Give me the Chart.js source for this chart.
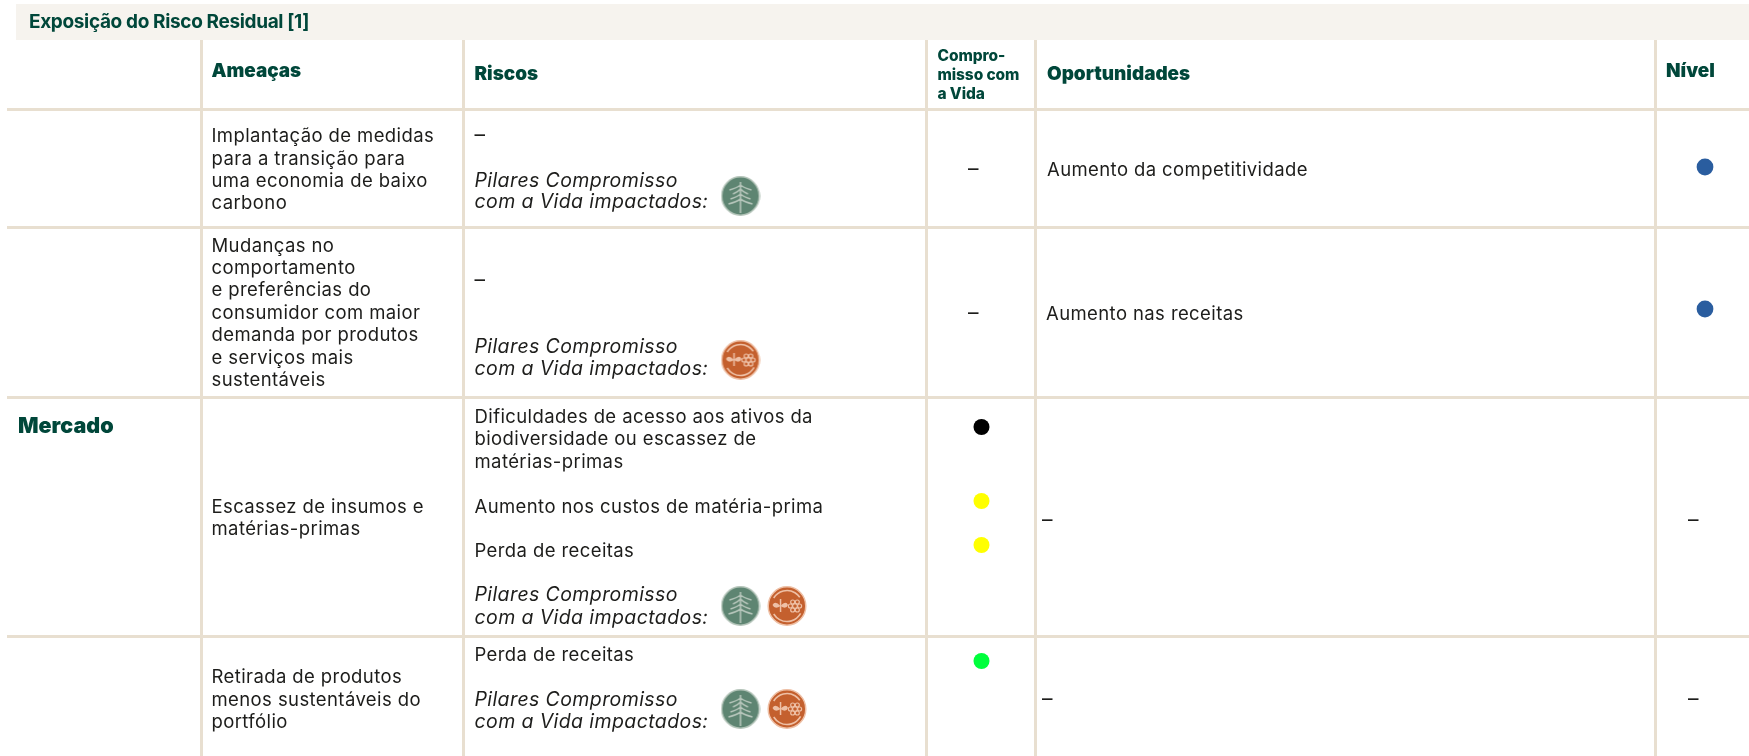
<!DOCTYPE html>
<html lang="pt">
<head>
<meta charset="utf-8">
<title>Exposição do Risco Residual</title>
<style>
  html, body { margin: 0; padding: 0; background: #fff; overflow: hidden; }
  canvas { display: block; }
</style>
<script src="https://cdn.jsdelivr.net/npm/chart.js@4"></script>
</head>
<body>
<canvas id="myChart" width="1749" height="756"></canvas>
<script>
// conteudo da tabela
var titulo = "Exposição do Risco Residual [1]";
var tema = "Mercado";
var colunas = ["Ameaças", "Riscos", "Oportunidades", "Nível"];
var colunaCompromisso = ["Compro-", "misso com", "a Vida"];
var ameacas = [
  ["Implantação de medidas", "para a transição para", "uma economia de baixo", "carbono"],
  ["Mudanças no", "comportamento", "e preferências do", "consumidor com maior", "demanda por produtos", "e serviços mais", "sustentáveis"],
  ["Escassez de insumos e", "matérias-primas"],
  ["Retirada de produtos", "menos sustentáveis do", "portfólio"]
];
var riscos = [
  ["Dificuldades de acesso aos ativos da", "biodiversidade ou escassez de", "matérias-primas"],
  ["Aumento nos custos de matéria-prima"],
  ["Perda de receitas"],
  ["Perda de receitas"]
];
var pilares = ["Pilares Compromisso", "com a Vida impactados:"];
var oportunidades = ["Aumento da competitividade", "Aumento nas receitas"];

// niveis
var nivelCompromisso = ["preto", "amarelo", "amarelo", "verde"];
var nivelOportunidade = ["azul", "azul"];
var pilaresPorLinha = [["floresta"], ["biodiversidade"], ["floresta", "biodiversidade"], ["floresta", "biodiversidade"]];

// layout, em unidades das escalas
var bordasX = [201, 463, 926.5, 1035, 1655];
var bordasY = [109.5, 227, 397, 636];
var centroCompromisso = 981.5, centroNivel = 1705;
var yCompromisso = [427, 501, 545, 661];
var yOportunidade = [167, 309];
var yIcones = [196, 360, 606, 709];
var xIcones = [740.5, 787];
var coresNivel = { preto: "#000000", amarelo: "#ffff00", verde: "#00ff3c", azul: "#2a5d9f" };
var verdeEscuro = "#00473a", preto = "#1d1d1b", linha = "#e8dfd0", faixa = "#f6f3ee";
var fonte = "Inter, sans-serif";

function icone(tipo) {
  var c = document.createElement("canvas");
  c.width = 40; c.height = 40;
  var g = c.getContext("2d");
  var claro = tipo === "floresta" ? "#b5c5ba" : "#eec0a6";
  g.fillStyle = tipo === "floresta" ? "#5e8572" : "#c4602e";
  g.strokeStyle = claro;
  g.lineWidth = 1.5;
  g.beginPath(); g.ellipse(20, 20, 18.8, 19.2, 0, 0, Math.PI * 2); g.fill(); g.stroke();
  g.lineWidth = 1.6;
  if (tipo === "floresta") {
    g.beginPath();
    g.moveTo(20, 6); g.lineTo(20, 37);
    [[10, 11], [14, 7.5], [19, 10], [24, 12]].forEach(function (r) {
      g.moveTo(20 - r[1], r[0] + 4); g.quadraticCurveTo(20 - r[1] / 3, r[0] + 2, 20, r[0] - 1);
      g.quadraticCurveTo(20 + r[1] / 3, r[0] + 2, 20 + r[1], r[0] + 4);
    });
    g.stroke();
  } else {
    g.beginPath(); g.arc(20, 20, 15.5, -2.6, -0.6); g.stroke();
    g.beginPath(); g.arc(20, 20, 15.5, 0.5, 2.6); g.stroke();
    g.fillStyle = claro;
    // folhas
    g.beginPath(); g.moveTo(13.5, 20); g.quadraticCurveTo(8, 14, 5.5, 19); g.quadraticCurveTo(8, 24, 13.5, 20); g.fill();
    g.beginPath(); g.moveTo(13.5, 20); g.quadraticCurveTo(19, 14, 21, 19); g.quadraticCurveTo(19, 24, 13.5, 20); g.fill();
    g.fillRect(12.8, 13, 1.5, 13);
    // flor
    g.lineWidth = 1.2;
    g.beginPath(); g.arc(28, 20, 2.4, 0, Math.PI * 2); g.stroke();
    for (var i = 0; i < 6; i++) {
      var a = i * Math.PI / 3;
      g.beginPath(); g.arc(28 + Math.cos(a) * 4.6, 20 + Math.sin(a) * 4.6, 2, 0, Math.PI * 2); g.stroke();
    }
  }
  return c;
}

var pontosCompromisso = nivelCompromisso.map(function (n, i) { return { x: centroCompromisso, y: yCompromisso[i] }; });
var pontosOportunidade = nivelOportunidade.map(function (n, i) { return { x: centroNivel, y: yOportunidade[i] }; });
var pontosIcones = [], estilosIcones = [];
pilaresPorLinha.forEach(function (lista, i) {
  lista.forEach(function (p, j) {
    pontosIcones.push({ x: xIcones[j], y: yIcones[i] });
    estilosIcones.push(icone(p));
  });
});

// textos da tabela desenhados sobre as escalas
function blocoTextos() {
  var corpo = { font: "400 18.5px " + fonte, cor: preto, esp: 0.4 };
  var itens = [];
  function add(t, x, y, e) { itens.push({ t: t, x: x, y: y, e: e }); }
  function bloco(ls, x, ys, e) { ls.forEach(function (t, i) { add(t, x, ys[i], e); }); }
  var cab = { font: "900 18.9px " + fonte, cor: verdeEscuro, esp: 0 };
  add(colunas[0], 211.5, 77, cab);
  add(colunas[1], 474.5, 80, cab);
  add(colunas[2], 1047, 80, cab);
  add(colunas[3], 1666, 77, cab);
  bloco(colunaCompromisso, 937.5, [60.5, 80, 99], { font: "800 15.5px " + fonte, cor: verdeEscuro, esp: -0.1 });
  add(tema, 18, 433, { font: "900 21.5px " + fonte, cor: verdeEscuro, esp: 0 });

  bloco(ameacas[0], 211.5, [142, 164.5, 187, 209], corpo);
  bloco(ameacas[1], 211.5, [251.5, 274, 296, 318.5, 341, 363.5, 386], corpo);
  bloco(ameacas[2], 211.5, [513, 535], corpo);
  bloco(ameacas[3], 211.5, [683, 706, 728], corpo);

  bloco(riscos[0], 474.5, [422.7, 445, 467.7], corpo);
  bloco(riscos[1], 474.5, [512.7], corpo);
  bloco(riscos[2], 474.5, [556.7], corpo);
  bloco(riscos[3], 474.5, [661], corpo);

  var it = { font: "italic 400 19.5px " + fonte, cor: preto, esp: 0.4 };
  bloco(pilares, 474.5, [186.5, 208], it);
  bloco(pilares, 474.5, [353, 375], it);
  bloco(pilares, 474.5, [601.2, 624], it);
  bloco(pilares, 474.5, [705.7, 727.7], it);

  add(oportunidades[0], 1047, 175.5, corpo);
  add(oportunidades[1], 1046, 320, corpo);

  var traco = { font: "400 21px " + fonte, cor: preto, esp: 0 };
  add("–", 474.5, 142, traco);
  add("–", 474.5, 287, traco);
  add("–", 968, 176, traco);
  add("–", 968, 320, traco);
  add("–", 1042, 527, traco);
  add("–", 1042, 706, traco);
  add("–", 1688, 527, traco);
  add("–", 1688, 706, traco);
  return itens;
}

var tabelaPlugin = {
  id: "tabela",
  afterDatasetsDraw: function (chart) {
    var ctx = chart.ctx, sx = chart.scales.x, sy = chart.scales.y;
    ctx.save();
    ctx.fillStyle = faixa;
    ctx.fillRect(16, 4, 1733, 36);
    ctx.textBaseline = "alphabetic";
    ctx.textAlign = "left";
    ctx.fillStyle = verdeEscuro;
    ctx.font = "700 19px " + fonte;
    ctx.letterSpacing = "-0.35px";
    ctx.fillText(titulo, 29, 28);
    blocoTextos().forEach(function (i) {
      ctx.font = i.e.font;
      ctx.fillStyle = i.e.cor;
      ctx.letterSpacing = i.e.esp + "px";
      ctx.fillText(i.t, sx.getPixelForValue(i.x), sy.getPixelForValue(i.y));
    });
    ctx.restore();
  }
};

function eixo(min, max, bordas, reverso) {
  return {
    type: "linear", min: min, max: max, reverse: !!reverso,
    afterBuildTicks: function (a) { a.ticks = bordas.map(function (v) { return { value: v }; }); },
    ticks: { display: false },
    border: { display: false },
    grid: { color: linha, lineWidth: 3, drawTicks: false }
  };
}

new Chart("myChart", {
  type: "scatter",
  data: {
    datasets: [
      {
        label: "Compromisso com a Vida",
        data: pontosCompromisso,
        pointRadius: 8,
        pointBorderWidth: 0,
        pointBackgroundColor: nivelCompromisso.map(function (n) { return coresNivel[n]; })
      },
      {
        label: "Nível",
        data: pontosOportunidade,
        pointRadius: 8.4,
        pointBorderWidth: 0,
        pointBackgroundColor: nivelOportunidade.map(function (n) { return coresNivel[n]; })
      },
      {
        label: "Pilares",
        data: pontosIcones,
        pointStyle: estilosIcones
      }
    ]
  },
  options: {
    responsive: false,
    animation: false,
    layout: { autoPadding: false, padding: { left: 7, top: 40, right: 0, bottom: 0 } },
    plugins: { legend: { display: false }, tooltip: { enabled: false }, title: { display: false } },
    scales: {
      x: eixo(7, 1749, bordasX),
      y: eixo(40, 756, bordasY, true)
    }
  },
  plugins: [tabelaPlugin]
});
</script>
</body>
</html>
